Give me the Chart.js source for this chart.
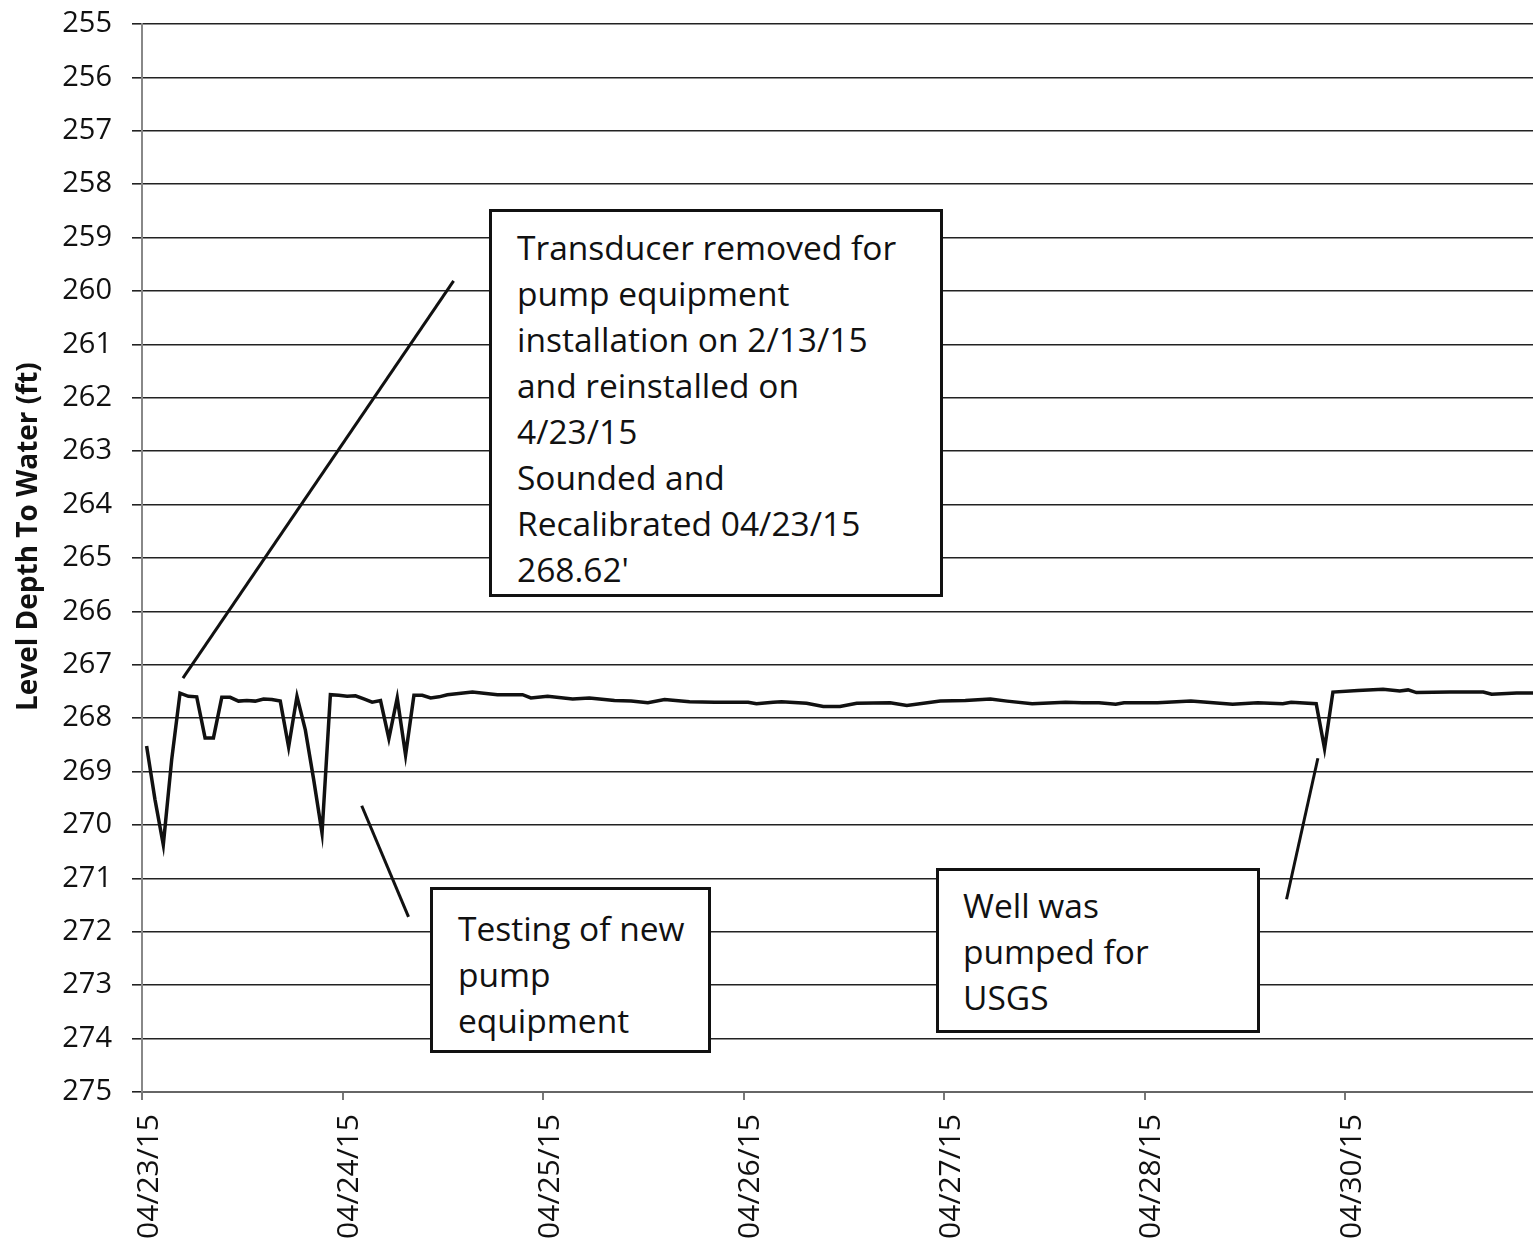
<!DOCTYPE html>
<html>
<head>
<meta charset="utf-8">
<script src="https://cdn.jsdelivr.net/npm/chart.js@4/dist/chart.umd.min.js"></script>
<style>
  html, body { margin: 0; padding: 0; background: #fff; }
  #wrap { position: relative; width: 1533px; height: 1256px; overflow: hidden; }
  #c { position: absolute; left: 0; top: 0; }
  .note { position: absolute; background: #fff; border: 3px solid #111; box-sizing: border-box;
          font-family: "Open Sans", sans-serif; font-size: 33.5px; line-height: 46px;
          color: #111; white-space: nowrap; }
</style>
</head>
<body>
<div id="wrap">
  <canvas id="c" width="1533" height="1256"></canvas>
  <div class="note" style="left:489px; top:209px; width:454px; height:388px; padding:12px 0 0 25px;">Transducer removed for<br>pump equipment<br>installation on 2/13/15<br>and reinstalled on<br>4/23/15<br>Sounded and<br>Recalibrated 04/23/15<br>268.62'</div>
  <div class="note" style="left:430px; top:887px; width:281px; height:166px; padding:15px 0 0 25px;">Testing of new<br>pump<br>equipment</div>
  <div class="note" style="left:936px; top:868px; width:324px; height:165px; padding:11px 0 0 24px;">Well was<br>pumped for<br>USGS</div>
</div>
<script>
// Hours since 04/23/15 00:00
const hours = [
  0.55, 1.55, 2.55, 3.55, 4.55, 5.55, 6.55, 7.55, 8.55, 9.55,
  10.55, 11.55, 12.55, 13.55, 14.55, 15.55, 16.55, 17.55, 18.55, 19.55,
  20.55, 21.55, 22.55, 23.55, 24.55, 25.55, 26.55, 27.55, 28.55, 29.55,
  30.55, 31.55, 32.55, 33.55, 34.55, 35.55, 36.55,
  39.55, 42.55, 45.55, 46.55, 48.55, 51.55, 53.55, 56.55, 58.55, 60.55,
  62.55, 65.55, 68.55, 72.55, 73.55, 75.55, 76.55, 79.55, 81.55, 83.55,
  85.55, 89.55, 91.55, 95.55, 98.55, 101.55, 103.55, 106.55, 110.55, 112.55,
  114.55, 116.55, 117.55, 121.55, 125.55, 130.55, 133.55, 136.55, 137.55, 140.55,
  141.55, 142.55, 145.55, 148.55, 150.55, 151.55, 152.55, 156.55, 160.55, 161.55,
  164.55, 166.55
];
const depth = [
  268.52, 269.52, 270.37, 268.78, 267.53, 267.59, 267.60, 268.37, 268.37, 267.61,
  267.61, 267.68, 267.67, 267.68, 267.64, 267.65, 267.68, 268.54, 267.59, 268.22,
  269.15, 270.15, 267.56, 267.57, 267.59, 267.58, 267.64, 267.70, 267.67, 268.38,
  267.62, 268.69, 267.57, 267.57, 267.62, 267.60, 267.56,
  267.51, 267.56, 267.56, 267.62, 267.59, 267.64, 267.62, 267.67, 267.68, 267.71,
  267.65, 267.69, 267.70, 267.70, 267.73, 267.70, 267.69, 267.72, 267.78, 267.78,
  267.72, 267.71, 267.76, 267.68, 267.67, 267.64, 267.68, 267.73, 267.70, 267.71,
  267.71, 267.74, 267.71, 267.71, 267.68, 267.74, 267.71, 267.73, 267.70, 267.73,
  268.57, 267.51, 267.48, 267.46, 267.49, 267.47, 267.52, 267.51, 267.51, 267.55,
  267.53, 267.53
];
const tickHours = [0, 24, 48, 72, 96, 120, 144];
const tickLabels = ['04/23/15', '04/24/15', '04/25/15', '04/26/15', '04/27/15', '04/28/15', '04/30/15'];
const yTitle = 'Level Depth To Water (ft)';
// connector lines for the callouts: [hourStart, depthStart, hourEnd, depthEnd]
const connectors = [
  [4.9, 267.25, 37.3, 259.81],
  [26.3, 269.64, 31.9, 271.72],
  [137.0, 271.39, 140.75, 268.75]
];

const FONT = '"Open Sans", sans-serif';

const connectorPlugin = {
  id: 'connectors',
  afterDatasetsDraw(chart) {
    const { ctx, scales: { x, y } } = chart;
    ctx.save();
    ctx.strokeStyle = '#111';
    ctx.lineWidth = 3;
    connectors.forEach(c => {
      ctx.beginPath();
      ctx.moveTo(x.getPixelForValue(c[0]), y.getPixelForValue(c[1]));
      ctx.lineTo(x.getPixelForValue(c[2]), y.getPixelForValue(c[3]));
      ctx.stroke();
    });
    ctx.restore();
  }
};

// y-axis title, drawn a little above the axis centre as in the original
const yTitlePlugin = {
  id: 'yTitle',
  afterDraw(chart) {
    const { ctx, scales: { y } } = chart;
    ctx.save();
    ctx.font = 'bold 28px ' + FONT;
    ctx.fillStyle = '#111';
    ctx.textAlign = 'center';
    ctx.textBaseline = 'middle';
    ctx.translate(29, y.getPixelForValue(264.6));
    ctx.rotate(-Math.PI / 2);
    ctx.fillText(yTitle, 0, 0);
    ctx.restore();
  }
};

new Chart(document.getElementById('c'), {
  type: 'line',
  data: {
    datasets: [{
      data: hours.map((h, i) => ({ x: h, y: depth[i] })),
      borderColor: '#111',
      borderWidth: 3.5,
      pointRadius: 0,
      tension: 0,
      fill: false
    }]
  },
  options: {
    responsive: false,
    animation: false,
    events: [],
    layout: { padding: { left: 14, top: 24, right: 0, bottom: 0 } },
    plugins: { legend: { display: false }, tooltip: { enabled: false } },
    scales: {
      x: {
        type: 'linear',
        min: 0,
        max: 166.5,
        afterBuildTicks(scale) { scale.ticks = tickHours.map(v => ({ value: v })); },
        afterFit(scale) { scale.height = 164; scale.paddingLeft = 0; scale.paddingRight = 0; },
        ticks: {
          autoSkip: false,
          minRotation: 90,
          maxRotation: 90,
          padding: 14,
          labelOffset: 7,
          color: '#111',
          font: { family: FONT, size: 30 },
          callback(v) { const i = tickHours.indexOf(v); return i >= 0 ? tickLabels[i] : ''; }
        },
        grid: { drawOnChartArea: false, drawTicks: true, tickLength: 8, color: '#777', lineWidth: 2 },
        border: { color: '#666', width: 2 }
      },
      y: {
        type: 'linear',
        reverse: true,
        min: 255,
        max: 275,
        afterFit(scale) { scale.width = 128; scale.paddingTop = 0; scale.paddingBottom = 0; },
        ticks: {
          stepSize: 1,
          padding: 20,
          color: '#111',
          font: { family: FONT, size: 29 }
        },
        grid: { color: '#222', lineWidth: 1.6, tickLength: 10 },
        border: { color: '#888', width: 2 },
        title: { display: false }
      }
    }
  },
  plugins: [connectorPlugin, yTitlePlugin]
});
</script>
</body>
</html>
